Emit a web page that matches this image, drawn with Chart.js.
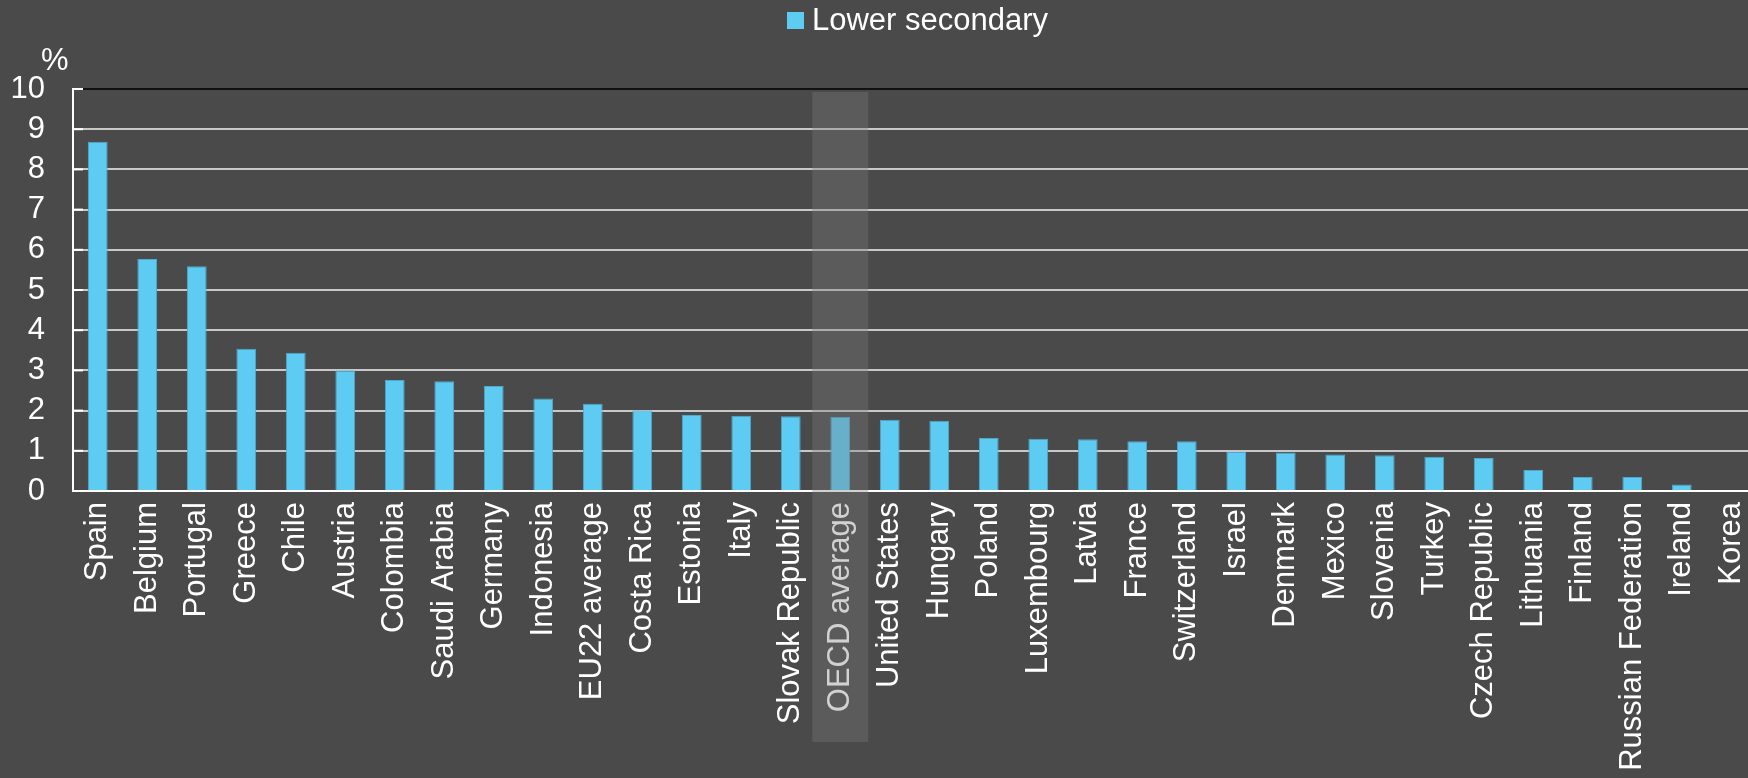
<!DOCTYPE html>
<html lang="en">
  <head>
    <meta charset="UTF-8" />
    <title>Lower secondary</title>
    <script src="https://cdn.jsdelivr.net/npm/chart.js"></script>
    <style>
      html, body { margin: 0; padding: 0; background: #4a4a4a; overflow: hidden; }
      #wrap { width: 1760px; height: 778px; }
    </style>
  </head>
  <body>
    <div id="wrap"><canvas id="chart" width="1760" height="778"></canvas></div>

    <script>
      const countries = [
        "Spain", "Belgium", "Portugal", "Greece", "Chile", "Austria", "Colombia",
        "Saudi Arabia", "Germany", "Indonesia", "EU22 average", "Costa Rica",
        "Estonia", "Italy", "Slovak Republic", "OECD average", "United States",
        "Hungary", "Poland", "Luxembourg", "Latvia", "France", "Switzerland",
        "Israel", "Denmark", "Mexico", "Slovenia", "Turkey", "Czech Republic",
        "Lithuania", "Finland", "Russian Federation", "Ireland", "Korea",
      ];
      const lowerSecondary = [
        8.69, 5.77, 5.59, 3.54, 3.44, 3.0, 2.76, 2.73, 2.61, 2.3, 2.17, 2.0,
        1.89, 1.87, 1.86, 1.85, 1.77, 1.75, 1.32, 1.3, 1.29, 1.24, 1.24,
        0.97, 0.96, 0.91, 0.89, 0.85, 0.82, 0.52, 0.35, 0.35, 0.16, 0,
      ];
      const yTicks = [0, 1, 2, 3, 4, 5, 6, 7, 8, 9, 10];
      const highlight = "OECD average";

      const FONT = "'Liberation Sans', Arial, sans-serif";

      // legend, % label, small inner ticks and the grey band over the OECD average
      const extras = {
        id: "extras",
        afterDraw(chart) {
          const ctx = chart.ctx;
          const x = chart.scales.x;
          const y = chart.scales.y;
          const area = chart.chartArea;
          ctx.save();

          ctx.strokeStyle = "#ffffff";
          ctx.lineWidth = 2;
          yTicks.forEach((v) => {
            const py = y.getPixelForValue(v);
            ctx.beginPath();
            ctx.moveTo(area.left, py);
            ctx.lineTo(area.left + 10, py);
            ctx.stroke();
          });

          const cx = x.getPixelForValue(countries.indexOf(highlight));
          ctx.fillStyle = "rgba(123,123,123,0.35)";
          ctx.fillRect(cx - 28, 92, 56, 650);

          ctx.fillStyle = "#5ecbf3";
          ctx.fillRect(787, 12, 17, 17);
          ctx.fillStyle = "#ffffff";
          ctx.font = "31px " + FONT;
          ctx.textBaseline = "middle";
          ctx.textAlign = "left";
          ctx.fillText(chart.data.datasets[0].label, 812, 21);

          ctx.font = "31px " + FONT;
          ctx.textBaseline = "alphabetic";
          ctx.fillText("%", 41, 70);
          ctx.restore();
        },
      };

      new Chart(document.getElementById("chart"), {
        type: "bar",
        data: {
          labels: countries,
          datasets: [
            {
              label: "Lower secondary",
              data: lowerSecondary,
              backgroundColor: "#5ecbf3",
              borderColor: "#4fa9cc",
              borderWidth: 1,
              barPercentage: 0.4,
              categoryPercentage: 1,
            },
          ],
        },
        options: {
          responsive: false,
          animation: false,
          devicePixelRatio: 1,
          layout: { padding: { top: 89, right: 4, left: 0, bottom: 0 } },
          plugins: { legend: { display: false }, tooltip: { enabled: false } },
          scales: {
            x: {
              grid: { display: false, drawTicks: false },
              border: { color: "#ffffff", width: 2 },
              ticks: {
                color: "#ffffff",
                font: { size: 31, family: FONT },
                maxRotation: 90,
                minRotation: 90,
                padding: 11,
                autoSkip: false,
              },
              afterFit(scale) {
                scale.height = 287;
                scale.paddingLeft = 0;
                scale.paddingRight = 0;
              },
            },
            y: {
              min: 0,
              max: 10,
              afterBuildTicks(scale) { scale.ticks = yTicks.map((v) => ({ value: v })); },
              grid: {
                drawTicks: false,
                lineWidth: 2,
                color: (c) => (c.tick && c.tick.value === 10 ? "#111111" : "#c8c8c8"),
              },
              border: { color: "#ffffff", width: 2 },
              ticks: {
                color: "#ffffff",
                font: { size: 31, family: FONT },
                padding: 28,
              },
              afterFit(scale) { scale.width = 73; },
            },
          },
        },
        plugins: [extras],
      });
    </script>
  </body>
</html>
